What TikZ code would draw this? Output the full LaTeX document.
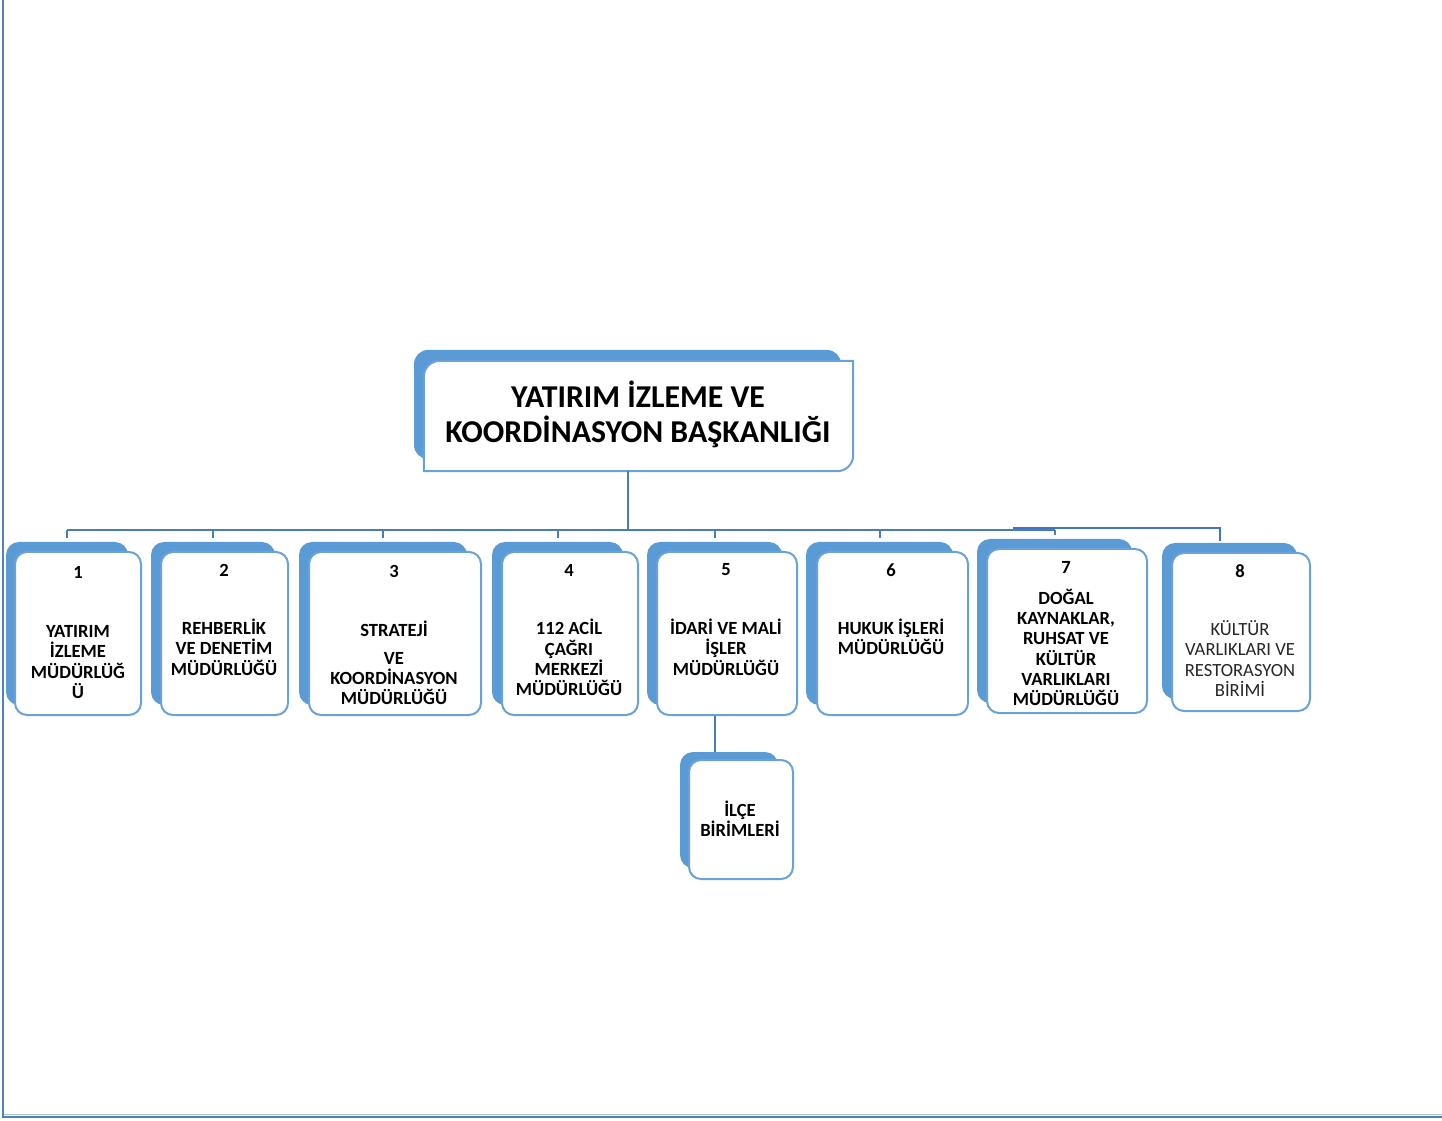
\documentclass[tikz,border=0pt]{standalone}
\usepackage{fontspec}
\setmainfont{Carlito}
\usetikzlibrary{fit}
\definecolor{bluefill}{HTML}{5B9BD5}
\definecolor{frontline}{HTML}{6AA2D8}
\definecolor{conncol}{HTML}{4A7DB5}
\definecolor{conneight}{HTML}{4472C4}
\definecolor{framecol}{HTML}{4F81BD}
\definecolor{framelight}{HTML}{A9C2E0}
\tikzset{
  backbox/.style={fill=bluefill, draw=none, rounded corners=13pt, inner sep=0pt},
  frontbox/.style={fill=white, draw=frontline, line width=2pt, rounded corners=12pt, inner sep=0pt},
  conn/.style={draw=conncol, line width=2pt},
  conne/.style={draw=conneight, line width=2pt},
  numtxt/.style={font=\bfseries\fontsize{18.6}{20.3}\selectfont, inner sep=0pt},
  bodytxt/.style={font=\bfseries\fontsize{18.6}{20.3}\selectfont, align=center, inner sep=0pt},
  bodyreg/.style={font=\fontsize{18.6}{20.3}\selectfont, align=center, inner sep=0pt, text=black!85},
  headtxt/.style={font=\bfseries\fontsize{31.8}{35.5}\selectfont, align=center, inner sep=0pt}
}
\begin{document}
\begin{tikzpicture}[x=1pt,y=1pt]
\useasboundingbox (0,0) rectangle (1442,1120);
% frame
\draw[framelight, line width=1pt] (4,5.2) -- (1442,5.2);
\draw[framecol, line width=1.4pt] (3,1120) -- (3,3) -- (1442,3);

% head
\node[backbox, rounded corners=14pt, fit={(414,661)(841,770)}] (hb) {};
\node[inner sep=0pt, fit={(424,649)(853,759)}] (h) {};
\draw[fill=white, draw=frontline, line width=2pt]
  (h.south west) -- ([yshift=-16pt]h.north west)
  arc[start angle=180, end angle=90, radius=16pt]
  -- (h.north east) -- ([yshift=16pt]h.south east)
  arc[start angle=0, end angle=-90, radius=16pt] -- cycle;
\node[headtxt] (ht) at (638,705.5) {YATIRIM İZLEME VE\\KOORDİNASYON BAŞKANLIĞI};

% back boxes
\node[backbox, fit={(6,415)(128,578)}] (s1) {};
\node[backbox, fit={(151,415)(275,578)}] (s2) {};
\node[backbox, fit={(299,415)(467,578)}] (s3) {};
\node[backbox, fit={(492,415)(623,578)}] (s4) {};
\node[backbox, fit={(647,415)(782,578)}] (s5) {};
\node[backbox, fit={(806,415)(953,578)}] (s6) {};
\node[backbox, fit={(977,417)(1132,581)}] (s7) {};
\node[backbox, fit={(1162,421)(1297,577)}] (s8) {};
\node[backbox, fit={(680,252)(778,368)}] (si) {};

% front boxes
\node[frontbox, fit={(15,405)(141,568)}] (f1) {};
\node[frontbox, fit={(161,405)(288,568)}] (f2) {};
\node[frontbox, fit={(309,405)(481,568)}] (f3) {};
\node[frontbox, fit={(502,405)(638,568)}] (f4) {};
\node[frontbox, fit={(657,405)(797,568)}] (f5) {};
\node[frontbox, fit={(817,405)(968,568)}] (f6) {};
\node[frontbox, fit={(987,407)(1147,571)}] (f7) {};
\node[frontbox, fit={(1172,409)(1310,567)}] (f8) {};
\node[frontbox, fit={(689,241)(793,360)}] (fi) {};

% connectors
\coordinate (busL) at (67,590);
\coordinate (busR) at (1055,590);
\coordinate (busM) at (1013,592);
\draw[conn] (hb.center |- h.south) -- (hb.center |- busL);
\draw[conn] (busL) -- (busR);
\foreach \i in {1,...,7}{
  \draw[conn] (s\i.north |- busL) -- ([yshift=4pt]s\i.north);
}
\coordinate (t8) at ([xshift=-9.5pt,yshift=2pt]s8.north);
\draw[conne] (busM) -- (t8 |- busM) -- (t8);
\draw[conn] (s5.center |- f5.south) -- (s5.center |- si.north);

% numbers
\node[numtxt] (n1) at (78,548) {1};
\node[numtxt] (n2) at (224,550) {2};
\node[numtxt] (n3) at (394,549) {3};
\node[numtxt] (n4) at (569,550) {4};
\node[numtxt] (n5) at (726,550) {5};
\node[numtxt] (n6) at (891,550) {6};
\node[numtxt] (n7) at (1066,553) {7};
\node[numtxt] (n8) at (1240,549) {8};

% body texts
\node[bodytxt] (t1) at (78,458) {YATIRIM\\İZLEME\\MÜDÜRLÜĞ\\Ü};
\node[bodytxt] (t2) at (224,473) {REHBERLİK\\VE DENETİM\\MÜDÜRLÜĞÜ};
\node[bodytxt] (t3) at (394,457) {STRATEJİ\\[7.5pt]VE\\KOORDİNASYON\\MÜDÜRLÜĞÜ};
\node[bodytxt] (t4) at (569,462.5) {112 ACİL\\ÇAĞRI\\MERKEZİ\\MÜDÜRLÜĞÜ};
\node[bodytxt] (t5) at (726,473) {İDARİ VE MALİ\\İŞLER\\MÜDÜRLÜĞÜ};
\node[bodytxt] (t6) at (891,483) {HUKUK İŞLERİ\\MÜDÜRLÜĞÜ};
\node[bodytxt] (t7) at (1066,472.5) {DOĞAL\\KAYNAKLAR,\\RUHSAT VE\\KÜLTÜR\\VARLIKLARI\\MÜDÜRLÜĞÜ};
\node[bodyreg] (t8) at (1240,461.5) {KÜLTÜR\\VARLIKLARI VE\\RESTORASYON\\BİRİMİ};
\node[bodytxt] (ti) at (740,301) {İLÇE\\BİRİMLERİ};
\end{tikzpicture}
\end{document}
